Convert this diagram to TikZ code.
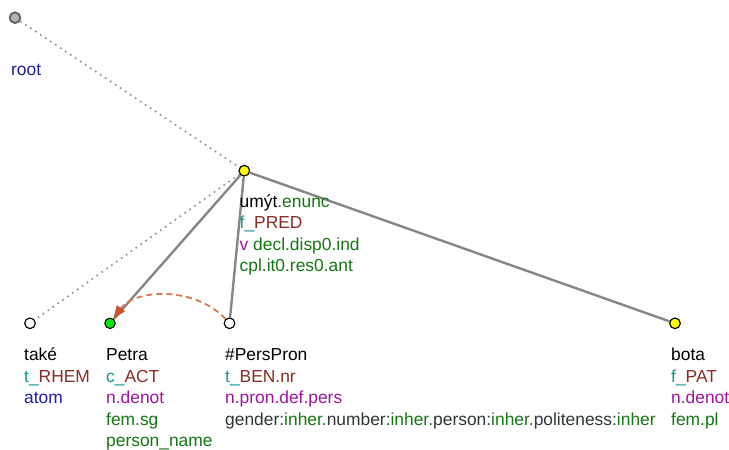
\documentclass[tikz,border=0pt]{standalone}
\usepackage{fontspec}
\setmainfont{Liberation Sans}
\usetikzlibrary{arrows.meta}
\definecolor{cTeal}{RGB}{20,150,150}
\definecolor{cBrown}{RGB}{135,45,35}
\definecolor{cPurple}{RGB}{160,20,160}
\definecolor{cGreen}{RGB}{20,120,20}
\definecolor{cBlue}{RGB}{30,30,160}
\definecolor{cDark}{RGB}{45,55,55}
\definecolor{cEdge}{RGB}{135,135,135}
\definecolor{cDot}{RGB}{150,150,150}
\definecolor{cCoref}{RGB}{220,120,85}
\definecolor{cCorefTip}{RGB}{200,85,45}
\definecolor{cYellow}{RGB}{255,255,0}
\definecolor{cLime}{RGB}{0,230,0}
\newcommand\tlines[1]{\vtop{\baselineskip=21.5pt\lineskiplimit=-100pt\lineskip=0pt #1}}
\tikzset{
  tnode/.style={circle, draw=black, line width=1pt, minimum size=10.5pt, inner sep=0pt},
  rootnode/.style={circle, draw=black!60, fill=black!30, line width=1.8pt, minimum size=10.5pt, inner sep=0pt},
  txt/.style={anchor=base west, inner sep=0pt, font=\fontsize{17.4}{21.5}\selectfont},
  solidedge/.style={draw=cEdge, line width=2.4pt},
  dotedge/.style={draw=cDot, line width=1.7pt, dash pattern=on 1.7pt off 4.3pt},
  coref/.style={draw=cCoref, line width=1.8pt, dash pattern=on 6pt off 4pt, -{Triangle[length=13pt,width=10pt,color=cCorefTip,line width=0.5pt]}}
}
\begin{document}
\begin{tikzpicture}[x=1pt,y=-1pt]
\useasboundingbox (0,0) rectangle (729,450);
% nodes
\node[rootnode] (root) at (15,17.7) {};
\node[tnode, fill=cYellow] (umyt) at (244.3,170.7) {};
\node[tnode, fill=white] (take) at (30,323.3) {};
\node[tnode, fill=cLime] (petra) at (110,323.3) {};
\node[tnode, fill=white] (pp) at (229.5,323.3) {};
\node[tnode, fill=cYellow] (bota) at (675,323.3) {};
% edges
\draw[dotedge] (root) -- (umyt);
\draw[dotedge] (umyt) -- (take);
\draw[solidedge] (umyt) -- (petra);
\draw[solidedge] (umyt) -- (pp);
\draw[solidedge] (umyt) -- (bota);
\draw[coref] (pp) .. controls (195,286) and (135,289) .. (petra);
% redraw nodes on top
\node[rootnode] at (root) {};
\node[tnode, fill=cYellow] at (umyt) {};
\node[tnode, fill=white] at (take) {};
\node[tnode, fill=white] at (pp) {};
\node[tnode, fill=cYellow] at (bota) {};
% labels
\node[txt, text=cBlue] (lroot) at (11,75) {root};
\node[txt] (lumyt) at (239.5,207.3) {\tlines{%
  \hbox{umýt\textcolor{cGreen}{.enunc}}%
  \hbox{\textcolor{cTeal}{f\_}\textcolor{cBrown}{PRED}}%
  \hbox{\textcolor{cPurple}{v} \textcolor{cGreen}{decl.disp0.ind}}%
  \hbox{\textcolor{cGreen}{cpl.it0.res0.ant}}}};
\node[txt] (ltake) at (24,360.7) {\tlines{%
  \hbox{také}%
  \hbox{\textcolor{cTeal}{t\_}\textcolor{cBrown}{RHEM}}%
  \hbox{\textcolor{cBlue}{atom}}}};
\node[txt] (lpetra) at (106,360.7) {\tlines{%
  \hbox{Petra}%
  \hbox{\textcolor{cTeal}{c\_}\textcolor{cBrown}{ACT}}%
  \hbox{\textcolor{cPurple}{n.denot}}%
  \hbox{\textcolor{cGreen}{fem.sg}}%
  \hbox{\textcolor{cGreen}{person\_name}}}};
\node[txt] (lpp) at (225,360.7) {\tlines{%
  \hbox{\#PersPron}%
  \hbox{\textcolor{cTeal}{t\_}\textcolor{cBrown}{BEN.nr}}%
  \hbox{\textcolor{cPurple}{n.pron.def.pers}}%
  \hbox{\textcolor{cDark}{gender:}\textcolor{cGreen}{inher.}\textcolor{cDark}{number:}\textcolor{cGreen}{inher.}\textcolor{cDark}{person:}\textcolor{cGreen}{inher.}\textcolor{cDark}{politeness:}\textcolor{cGreen}{inher}}}};
\node[txt] (lbota) at (671,360.7) {\tlines{%
  \hbox{bota}%
  \hbox{\textcolor{cTeal}{f\_}\textcolor{cBrown}{PAT}}%
  \hbox{\textcolor{cPurple}{n.denot}}%
  \hbox{\textcolor{cGreen}{fem.pl}}}};
\end{tikzpicture}
\end{document}
